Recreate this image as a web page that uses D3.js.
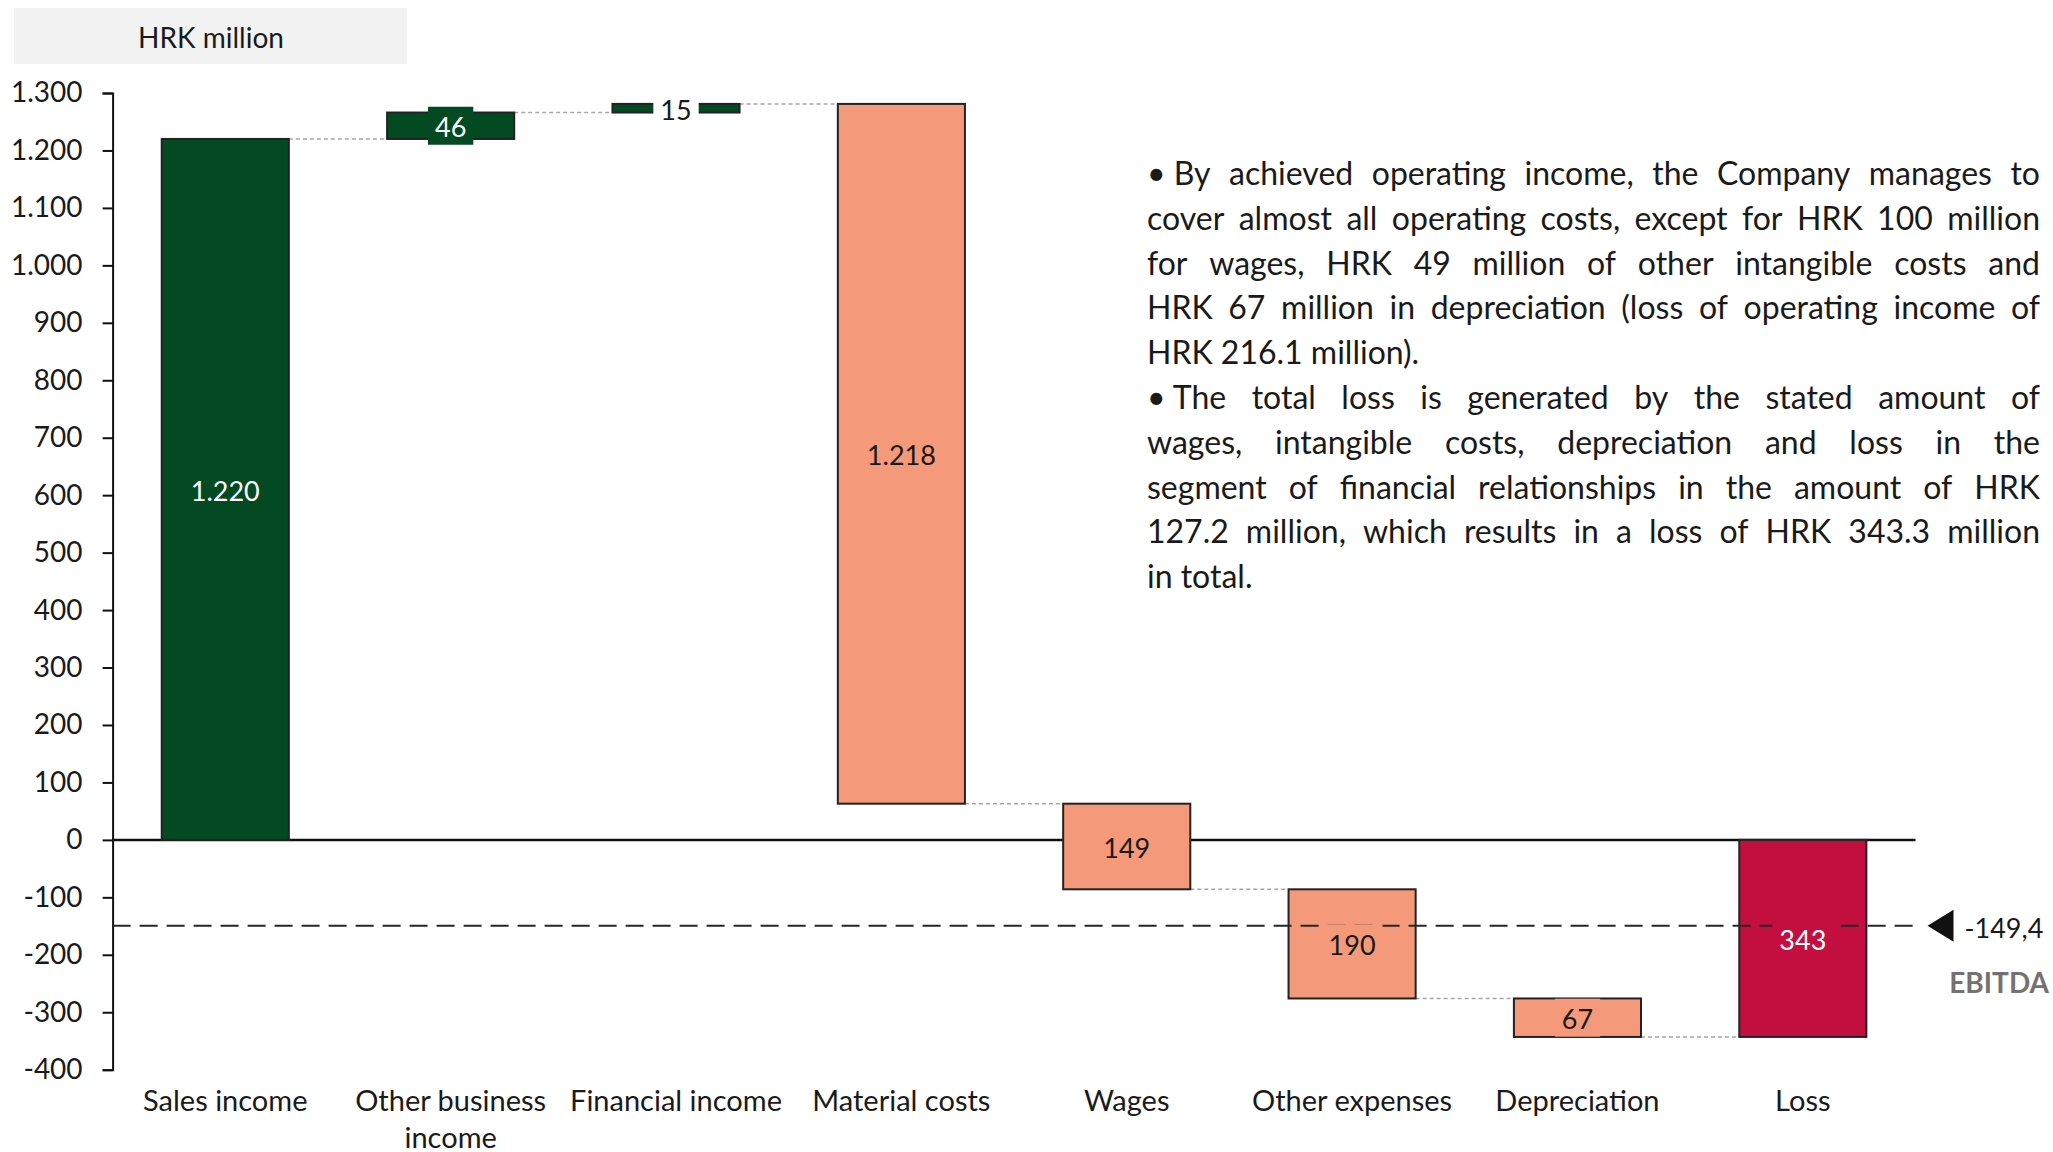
<!DOCTYPE html>
<html><head><meta charset="utf-8">
<script src="https://cdn.jsdelivr.net/npm/d3@7"></script>
<style>
html,body{margin:0;padding:0;background:#fff;}
svg{display:block;}
text{font-family: Lato, "Open Sans", sans-serif;}
</style></head><body>
<svg id="chart" width="2053" height="1152"></svg>
<script>
// ---------------- data ----------------
const categories = ["Sales income","Other business income","Financial income","Material costs","Wages","Other expenses","Depreciation","Loss"];
const categoryLines = [["Sales income"],["Other business","income"],["Financial income"],["Material costs"],["Wages"],["Other expenses"],["Depreciation"],["Loss"]];
const values = [1220, 46, 15, -1218, -149, -190, -67, -343];
const kinds = ["start","delta","delta","delta","delta","delta","delta","total"];
const yTicks = [-400,-300,-200,-100,0,100,200,300,400,500,600,700,800,900,1000,1100,1200,1300];
const ebitdaValue = -149.4;
const ebitdaLabel = "EBITDA";
const unitLabel = "HRK million";
const noteLines = [
  "• By achieved operating income, the Company manages to",
  "cover almost all operating costs, except for HRK 100 million",
  "for wages, HRK 49 million of other intangible costs and",
  "HRK 67 million in depreciation (loss of operating income of",
  "HRK 216.1 million).",
  "• The total loss is generated by the stated amount of",
  "wages, intangible costs, depreciation and loss in the",
  "segment of financial relationships in the amount of HRK",
  "127.2 million, which results in a loss of HRK 343.3 million",
  "in total."
];
const noteJustify = [true,true,true,true,false,true,true,true,true,false];

// ---------------- setup ----------------
const svg = d3.select("#chart");
const loc = d3.formatLocale({decimal:",", thousands:".", grouping:[3], currency:["",""], minus:"-"});
const fmt = loc.format(",.0f");
const fmt1 = loc.format(",.1f");

const COLORS = {income:"#034A23", cost:"#F4997A", total:"#C30F3F", stroke:"#222"};

const x = d3.scaleBand().domain(categories).range([112.6, 1915.5]).paddingInner(0.436).paddingOuter(0.218);
const y = d3.scaleLinear().domain([-400, 1300]).range([1069.7, 93.0]);

// compute waterfall segments
let cum = 0;
const bars = categories.map((c, i) => {
  let start, end;
  if (kinds[i] === "total") { start = 0; end = values[i]; cum = values[i]; }
  else { start = cum; end = cum + values[i]; cum = end; }
  const color = kinds[i] === "total" ? COLORS.total : (values[i] >= 0 ? COLORS.income : COLORS.cost);
  return {cat: c, value: values[i], start, end, kind: kinds[i], color};
});

// unit box
svg.append("rect").attr("x", 14).attr("y", 8).attr("width", 393).attr("height", 56).attr("fill", "#F2F2F2");
svg.append("text").attr("x", 211).attr("y", 37).attr("text-anchor","middle").attr("dominant-baseline","central")
  .attr("font-size", 28).attr("fill","#1a1a1a").text(unitLabel);

// y axis
const yAxis = d3.axisLeft(y).tickValues(yTicks).tickSize(10).tickPadding(20).tickFormat(d => fmt(d));
const gy = svg.append("g").attr("transform", `translate(${x.range()[0]},0)`).call(yAxis);
gy.select(".domain").attr("stroke","#111").attr("stroke-width",2);
gy.selectAll(".tick line").attr("stroke","#111").attr("stroke-width",2);
gy.selectAll(".tick text").attr("font-size", 28).attr("fill","#1a1a1a").attr("font-family","Lato, sans-serif");

// zero line (behind bars)
svg.append("line").attr("x1", x.range()[0]).attr("x2", x.range()[1]).attr("y1", y(0)).attr("y2", y(0))
  .attr("stroke", "#111").attr("stroke-width", 2.5);

// connectors
const conn = svg.append("g");
bars.forEach((b, i) => {
  if (i === bars.length - 1) return;
  const nb = bars[i+1];
  const level = b.end;
  conn.append("line")
    .attr("x1", x(b.cat) + x.bandwidth()).attr("x2", x(nb.cat))
    .attr("y1", y(level)).attr("y2", y(level))
    .attr("stroke", "#A6A6A6").attr("stroke-width", 1.5).attr("stroke-dasharray", "4,3");
});

// bars
svg.append("g").selectAll("rect").data(bars).join("rect")
  .attr("x", d => x(d.cat)).attr("width", x.bandwidth())
  .attr("y", d => y(Math.max(d.start, d.end)))
  .attr("height", d => Math.abs(y(d.start) - y(d.end)))
  .attr("fill", d => d.color).attr("stroke", COLORS.stroke).attr("stroke-width", 2);

// EBITDA dashed line
const yE = y(ebitdaValue);
svg.append("line").attr("x1", x.range()[0]).attr("x2", x.range()[1]).attr("y1", yE).attr("y2", yE)
  .attr("stroke", "#262626").attr("stroke-width", 2).attr("stroke-dasharray", "18,9");
const tipX = x.range()[1] + 12;
svg.append("path").attr("d", `M${tipX},${yE} L${tipX+26},${yE-16} L${tipX+26},${yE+16} Z`).attr("fill","#111");
svg.append("text").attr("x", tipX + 37).attr("y", yE + 2).attr("dominant-baseline","central")
  .attr("font-size", 27).attr("fill","#1a1a1a").text(fmt1(ebitdaValue));
svg.append("text").attr("x", 2049).attr("y", yE + 56).attr("text-anchor","end").attr("dominant-baseline","central")
  .attr("font-size", 28).attr("font-weight","bold").attr("fill","#767171").text(ebitdaLabel);

// data labels
const lg = svg.append("g");
bars.forEach(b => {
  const cx = x(b.cat) + x.bandwidth()/2;
  const cy = y((b.start + b.end)/2);
  const txtColor = (b.color === COLORS.cost || b.cat === "Financial income") ? "#1a1a1a" : "#ffffff";
  const bg = b.cat === "Financial income" ? "#ffffff" : b.color;
  const g = lg.append("g");
  const t = g.append("text").attr("x", cx).attr("y", cy + 1).attr("text-anchor","middle").attr("dominant-baseline","central")
    .attr("font-size", 27).attr("fill", txtColor).text(fmt(Math.abs(b.value)));
  const bb = t.node().getBBox();
  g.insert("rect", "text").attr("x", bb.x - 7).attr("y", cy - 19).attr("width", bb.width + 14).attr("height", 38).attr("fill", bg);
});

// category labels
const cg = svg.append("g");
categories.forEach((c, i) => {
  const t = cg.append("text").attr("x", x(c) + x.bandwidth()/2).attr("y", 1099).attr("text-anchor","middle")
    .attr("dominant-baseline","central").attr("font-size", 29).attr("fill","#1a1a1a");
  categoryLines[i].forEach((ln, k) => {
    t.append("tspan").attr("x", x(c) + x.bandwidth()/2).attr("dy", k === 0 ? 0 : 37).text(ln);
  });
});

// note paragraph (justified)
const noteX0 = 1147, noteX1 = 2040, noteY0 = 185, noteStep = 44.8;
const ng = svg.append("g");
const meas = svg.append("text").attr("font-size", 32).attr("visibility","hidden");
let maxW = 0;
noteLines.forEach(l => { meas.text(l); maxW = Math.max(maxW, meas.node().getComputedTextLength()); });
let fs = 32;
if (maxW > (noteX1 - noteX0) * 0.99) fs = 32 * (noteX1 - noteX0) * 0.99 / maxW;
fs = Math.min(fs, 34);
meas.attr("font-size", fs);
noteLines.forEach((line, li) => {
  const yy = noteY0 + li * noteStep;
  const words = line.replace("• ", "•\u00a0").split(" ");
  const t = ng.append("text").attr("y", yy).attr("font-size", fs).attr("fill","#1a1a1a");
  if (!noteJustify[li]) { t.attr("x", noteX0).text(line); return; }
  const widths = words.map(w => { meas.text(w); return meas.node().getComputedTextLength(); });
  const total = d3.sum(widths);
  const gap = (noteX1 - noteX0 - total) / (words.length - 1);
  let cx = noteX0;
  words.forEach((w, k) => {
    t.append("tspan").attr("x", cx).text(w);
    cx += widths[k] + gap;
  });
});
meas.remove();
</script>
</body></html>
